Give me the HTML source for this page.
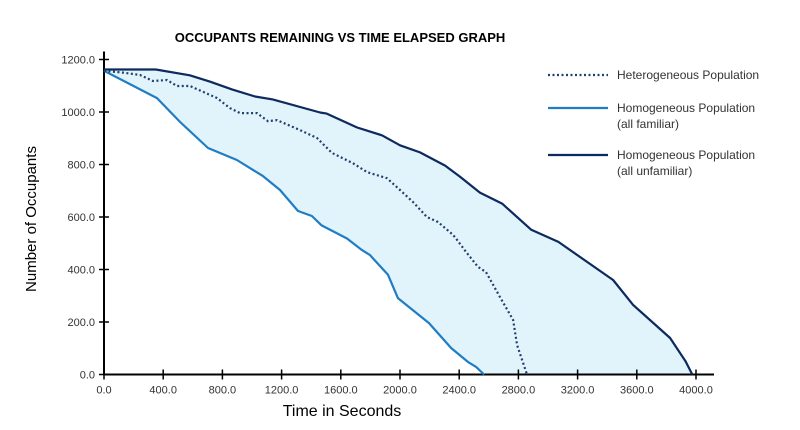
<!DOCTYPE html>
<html><head><meta charset="utf-8"><style>
html,body{margin:0;padding:0;background:#fff;}
svg{display:block;font-family:"Liberation Sans",sans-serif;}
</style></head><body>
<svg id="chart" width="800" height="430" viewBox="0 0 800 430">
<text x="340" y="42" text-anchor="middle" font-size="13" font-weight="bold" fill="#000">OCCUPANTS REMAINING VS TIME ELAPSED GRAPH</text>
<g id="plot"></g>
<text transform="translate(36,219) rotate(-90)" text-anchor="middle" font-size="15" fill="#000">Number of Occupants</text>
<text x="342" y="416" text-anchor="middle" font-size="16" fill="#000">Time in Seconds</text>
<g font-size="12" fill="#333">
 <line x1="548" y1="75" x2="608" y2="75" stroke="#1f3f6e" stroke-width="2.2" stroke-dasharray="2,2.5"/>
 <text x="617" y="79">Heterogeneous Population</text>
 <line x1="548" y1="108" x2="608" y2="108" stroke="#1f7dc4" stroke-width="2.2"/>
 <text x="617" y="112">Homogeneous Population</text>
 <text x="617" y="128">(all familiar)</text>
 <line x1="548" y1="155" x2="608" y2="155" stroke="#0d2a5e" stroke-width="2.2"/>
 <text x="617" y="159">Homogeneous Population</text>
 <text x="617" y="175">(all unfamiliar)</text>
</g>
</svg>
<script>
const xTicks = [0,400,800,1200,1600,2000,2400,2800,3200,3600,4000];
const yTicks = [0,200,400,600,800,1000,1200];
const unfamiliar = [[0,1162],[350,1162],[580,1140],[715,1116],[865,1086],[1020,1059],[1140,1048],[1460,998],[1505,994],[1710,941],[1880,911],[2000,873],[2135,846],[2305,796],[2405,754],[2540,693],[2690,651],[2885,552],[3070,505],[3440,360],[3575,265],[3825,139],[3930,50],[3975,0]];
const familiar = [[0,1157],[358,1053],[514,962],[703,863],[898,817],[1074,756],[1189,703],[1311,623],[1405,604],[1470,568],[1642,518],[1743,474],[1797,455],[1919,380],[1986,291],[2196,196],[2345,101],[2459,48],[2514,29],[2568,0]];
const hetero = [[0,1157],[128,1150],[243,1141],[331,1118],[426,1122],[493,1099],[581,1099],[764,1053],[851,1015],[919,996],[1034,996],[1108,965],[1169,969],[1324,931],[1439,901],[1540,844],[1682,805],[1777,771],[1912,748],[2000,703],[2088,657],[2182,600],[2257,581],[2358,532],[2385,513],[2446,467],[2527,410],[2581,390],[2676,295],[2764,208],[2791,112],[2858,0]];

const NS='http://www.w3.org/2000/svg';
const X0=104, X1=696, Y0=374.5, Y1=59.5;
const sx=v=>X0+(v-0)/4000*(X1-X0);
const sy=v=>Y0-(v-0)/1200*(Y0-Y1);
const plot=document.getElementById('plot');
function mk(tag,attrs){const e=document.createElementNS(NS,tag);for(const k in attrs)e.setAttribute(k,attrs[k]);plot.appendChild(e);return e;}
const pts=a=>a.map(p=>sx(p[0]).toFixed(1)+','+sy(p[1]).toFixed(1)).join(' ');

const band=mk('polygon',{points:pts(unfamiliar)+' '+pts(familiar.slice().reverse()),fill:'#e2f4fb'});



const ax=mk('path',{d:`M${X0},${Y1-8}V${Y0}H${X1+18}`,stroke:'#000','stroke-width':2,fill:'none'});



xTicks.forEach(t=>{
 const l=mk('line',{x1:sx(t),x2:sx(t),y1:Y0-5,y2:Y0+5,stroke:'#000','stroke-width':1.5});
 
 
 const tx=mk('text',{x:sx(t),y:Y0+19,'text-anchor':'middle','font-size':11,fill:'#333'});
 tx.textContent=t.toFixed(1);
 
 
});
yTicks.forEach(t=>{
 const l=mk('line',{x1:X0-5,x2:X0+5,y1:sy(t),y2:sy(t),stroke:'#000','stroke-width':1.5});
 
 
 const tx=mk('text',{x:X0-9,y:sy(t)+4,'text-anchor':'end','font-size':11,fill:'#333'});
 tx.textContent=t.toFixed(1);
 
 
});

const l1=mk('polyline',{points:pts(familiar),fill:'none',stroke:'#1f7dc4','stroke-width':2.2,'stroke-linejoin':'round'});


const l2=mk('polyline',{points:pts(unfamiliar),fill:'none',stroke:'#0d2a5e','stroke-width':2.2,'stroke-linejoin':'round'});


const l3=mk('polyline',{points:pts(hetero),fill:'none',stroke:'#1f3f6e','stroke-width':2.2,'stroke-dasharray':'2,2.5'});


</script>
</body></html>
